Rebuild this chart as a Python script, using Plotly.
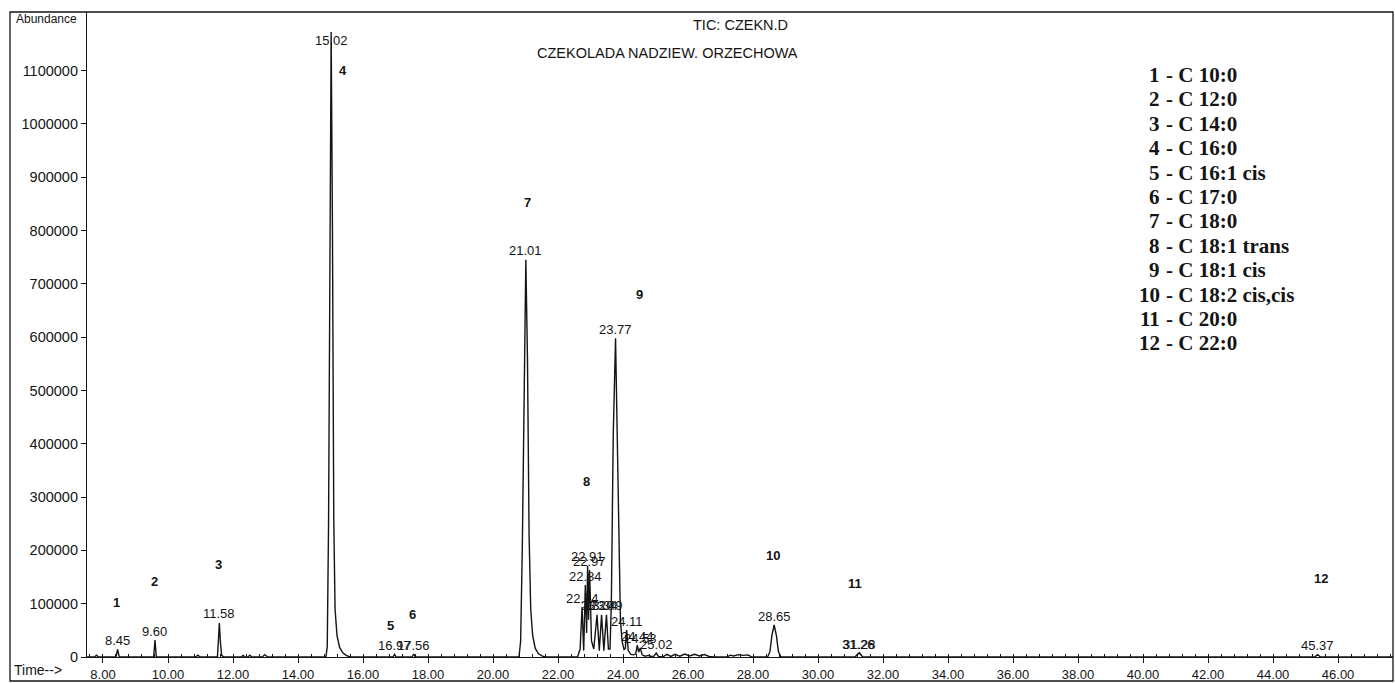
import plotly.graph_objects as go

# ---------------- data ----------------
TRACE_TIME = [
    7.51, 7.74, 7.80, 7.86,
    8.40, 8.45, 8.50,
    9.56, 9.60, 9.64,
    10.85, 10.92, 10.99,
    11.52, 11.55, 11.58, 11.61, 11.65, 11.72,
    12.25, 12.31, 12.37, 12.46, 12.52, 12.58, 12.90, 12.98, 13.06,
    14.86, 14.90, 14.94, 14.98, 15.02, 15.06, 15.10, 15.14, 15.20, 15.28, 15.38, 15.48, 15.60,
    16.92, 16.97, 17.02, 17.51, 17.56, 17.61,
    20.80, 20.85, 20.90, 20.96, 21.01, 21.06, 21.11, 21.16, 21.22, 21.30, 21.40, 21.52, 21.62,
    22.60, 22.68, 22.74, 22.79, 22.84, 22.88, 22.91, 22.94, 22.97, 23.03, 23.10, 23.20, 23.27,
    23.34, 23.41, 23.49, 23.55,
    23.60, 23.64, 23.70, 23.77, 23.82, 23.87, 23.92, 23.97, 24.03,
    24.07, 24.11, 24.16, 24.24, 24.33, 24.39, 24.44, 24.48, 24.53, 24.59, 24.68, 24.78, 24.88,
    24.95, 25.02, 25.09,
    25.22, 25.35, 25.47, 25.60, 25.75, 25.90, 26.05, 26.20, 26.35, 26.50, 26.65, 26.80,
    27.20, 27.30, 27.40, 27.55, 27.70, 27.85, 27.96,
    28.45, 28.52, 28.58, 28.65, 28.72, 28.78, 28.86,
    31.14, 31.24, 31.26, 31.28, 31.37,
    45.28, 45.37, 45.46, 47.69,
]
TRACE_ABUND = [
    0, 0, 3500, 0,
    0, 14400, 0,
    0, 31900, 0,
    0, 3500, 0,
    0, 30000, 63800, 30000, 3000, 0,
    0, 3000, 0, 0, 3500, 0, 0, 4500, 0,
    0, 20000, 250000, 800000, 1172500, 800000, 260000, 90000, 40000, 18000, 8000, 3000, 0,
    0, 5000, 0, 0, 5600, 0,
    0, 30000, 200000, 560000, 745000, 560000, 230000, 90000, 40000, 16000, 6000, 1500, 0,
    0, 15000, 93800, 12000, 135000, 45000, 171000, 70000, 163000, 30000, 15000, 79000, 12000,
    79000, 12000, 79000, 15000,
    15000, 100000, 420000, 598000, 420000, 180000, 70000, 30000, 14000,
    16000, 50600, 12000, 5000, 4000, 6000, 22500, 9000, 17000, 4000, 1500, 3000, 1000,
    1500, 7500, 1000,
    0, 5000, 1000, 5000, 1500, 5500, 2000, 5000, 2000, 4500, 1000, 0,
    0, 3500, 2000, 4500, 3000, 4000, 0,
    0, 10000, 40000, 60000, 40000, 10000, 0,
    0, 7000, 6000, 7500, 0,
    0, 4500, 0, 0,
]

PEAK_RT = [8.45, 9.60, 11.58, 15.02, 16.97, 17.56, 21.01, 22.74, 22.84, 22.91, 22.97,
           23.20, 23.34, 23.49, 23.77, 24.11, 24.44, 24.53, 25.02, 28.65, 31.26, 31.28, 45.37]
PEAK_ABUND = [14400, 31900, 63800, 1172500, 5000, 5600, 745000, 93800, 135000, 171000, 163000,
              79000, 79000, 79000, 598000, 50600, 22500, 17000, 7500, 60000, 7000, 7500, 4500]

COMPOUND_NO = ["1", "2", "3", "4", "5", "6", "7", "8", "9", "10", "11", "12"]
COMPOUND_RT = [8.43, 9.57, 11.55, 15.39, 16.85, 17.52, 21.07, 22.89, 24.50, 28.61, 31.14, 45.48]
COMPOUND_ABUND = [103000, 141000, 172600, 1101000, 58700, 80100, 852000, 330000, 680000,
                  189500, 137000, 148000]

LEGEND_NO = ["1", "2", "3", "4", "5", "6", "7", "8", "9", "10", "11", "12"]
LEGEND_NAME = ["C 10:0", "C 12:0", "C 14:0", "C 16:0", "C 16:1 cis", "C 17:0", "C 18:0",
               "C 18:1 trans", "C 18:1 cis", "C 18:2 cis,cis", "C 20:0", "C 22:0"]

X_TICKS = [8, 10, 12, 14, 16, 18, 20, 22, 24, 26, 28, 30, 32, 34, 36, 38, 40, 42, 44, 46]
Y_TICKS = [0, 100000, 200000, 300000, 400000, 500000, 600000, 700000, 800000, 900000,
           1000000, 1100000]

TITLE_1 = "TIC: CZEKN.D"
TITLE_2 = "CZEKOLADA NADZIEW. ORZECHOWA"

# ---------------- layout constants ----------------
W, H = 1395, 683
ML, MR, MT, MB = 87, 2, 12, 26
PW, PH = W - ML - MR, H - MT - MB
SANS = "Liberation Sans, Arial, sans-serif"
SERIF = "Liberation Serif, Times New Roman, serif"
INK = "#141414"


def px(x):
    return (x - ML) / PW


def py(y):
    return (H - MB - y) / PH


fig = go.Figure()
fig.add_trace(go.Scatter(x=TRACE_TIME, y=TRACE_ABUND, mode="lines",
                         line=dict(color=INK, width=1.4), hoverinfo="skip"))

ann = []
LABEL_CAP = 1140000
for rt, h in zip(PEAK_RT, PEAK_ABUND):
    ann.append(dict(x=rt, y=min(h, LABEL_CAP), xref="x", yref="y", text=f"{rt:.2f}",
                    showarrow=False, yshift=9, yanchor="middle", xanchor="center",
                    font=dict(family=SANS, size=13, color=INK)))
for no, rt, a in zip(COMPOUND_NO, COMPOUND_RT, COMPOUND_ABUND):
    ann.append(dict(x=rt, y=a, xref="x", yref="y", text=f"<b>{no}</b>", showarrow=False,
                    yanchor="middle", xanchor="center",
                    font=dict(family=SANS, size=13, color=INK)))
for i, (no, name) in enumerate(zip(LEGEND_NO, LEGEND_NAME)):
    yy = 75 + i * 24.4
    ann.append(dict(x=px(1162), y=py(yy), xref="paper", yref="paper", text=f"<b>{no}</b>",
                    showarrow=False, xanchor="right", yanchor="middle",
                    font=dict(family=SERIF, size=21, color=INK)))
    ann.append(dict(x=px(1164), y=py(yy), xref="paper", yref="paper", text=f"<b>- {name}</b>",
                    showarrow=False, xanchor="left", yanchor="middle",
                    font=dict(family=SERIF, size=21, color=INK)))
ann.append(dict(x=px(740), y=py(25), xref="paper", yref="paper", text=TITLE_1, showarrow=False,
                xanchor="center", yanchor="middle", font=dict(family=SANS, size=14.5, color=INK)))
ann.append(dict(x=px(667), y=py(53), xref="paper", yref="paper", text=TITLE_2, showarrow=False,
                xanchor="center", yanchor="middle", font=dict(family=SANS, size=14.5, color=INK)))
ann.append(dict(x=px(14), y=py(19), xref="paper", yref="paper", text="Abundance", showarrow=False,
                xanchor="left", yanchor="middle", font=dict(family=SANS, size=12, color=INK)))
ann.append(dict(x=px(12), y=py(670), xref="paper", yref="paper", text="Time-->", showarrow=False,
                xanchor="left", yanchor="middle", font=dict(family=SANS, size=14, color=INK)))

fig.update_layout(
    width=W, height=H, margin=dict(l=ML, r=MR, t=MT, b=MB, pad=0, autoexpand=False),
    paper_bgcolor="white", plot_bgcolor="white", showlegend=False,
    annotations=ann,
    shapes=[dict(type="rect", xref="paper", yref="paper", x0=px(10), x1=px(W - 2),
                 y0=py(681), y1=py(MT), line=dict(color=INK, width=1.3))],
    xaxis=dict(range=[7.508, 47.69], tickvals=X_TICKS, ticktext=[f"{v:.2f}" for v in X_TICKS],
               ticks="outside", ticklen=5, tickcolor=INK, tickwidth=1, showline=True,
               linecolor=INK, linewidth=1.2, showgrid=False, zeroline=False,
               tickfont=dict(family=SANS, size=13, color=INK),
               minor=dict(tick0=8, dtick=0.4, ticks="inside", ticklen=3, tickcolor=INK,
                          showgrid=False)),
    yaxis=dict(range=[0, 1210000], tickvals=Y_TICKS, ticktext=[str(v) for v in Y_TICKS],
               ticks="outside", ticklen=5, tickcolor=INK, tickwidth=1, showline=True,
               linecolor=INK, linewidth=1.2, showgrid=False, zeroline=False,
               tickfont=dict(family=SANS, size=14.5, color=INK)),
)

fig.write_html("out.html", config={"displayModeBar": False},
               post_script="document.body.style.margin='0';")
